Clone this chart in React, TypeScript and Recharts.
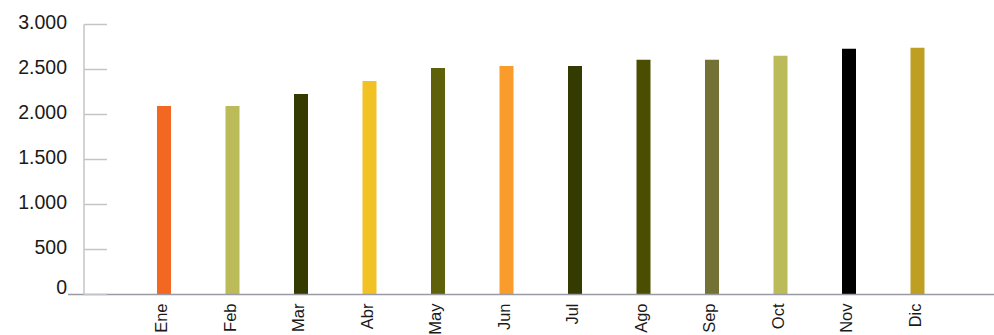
import React from "react";
import { BarChart, Bar, XAxis, YAxis, Cell, ReferenceLine } from "recharts";

const MONTHS = ["Ene", "Feb", "Mar", "Abr", "May", "Jun", "Jul", "Ago", "Sep", "Oct", "Nov", "Dic"];
const VALUES = [2095, 2095, 2229, 2373, 2518, 2540, 2540, 2607, 2607, 2652, 2730, 2741];
const COLORS = [
  "#f26722", "#bcbb5a", "#353a00", "#f2c123", "#5f600a", "#fa9c2c",
  "#353a00", "#4b4e00", "#737134", "#bcbb5a", "#000000", "#bf9f22",
];
const Y_TICKS = [0, 500, 1000, 1500, 2000, 2500, 3000];

const FONT = "'Liberation Sans', Arial, sans-serif";

const data = MONTHS.map((m, i) => ({ month: m, value: VALUES[i] }));

// thousands separator as a dot: 3000 -> "3.000"
const fmt = (v: number) => String(v).replace(/\B(?=(\d{3})+(?!\d))/g, ".");

function MonthTick({ x, y, payload }: any) {
  const bx = x + 3;
  return (
    <text
      x={bx}
      y={y}
      transform={`rotate(-90, ${bx}, ${y})`}
      textAnchor="end"
      fontSize={16.5}
      fontFamily={FONT}
      fill="#1a1a1a"
    >
      {payload.value}
    </text>
  );
}

function ValueTick({ x, y, payload }: any) {
  return (
    <text
      x={x}
      y={y}
      dy={payload.value === 0 ? -1 : 4}
      textAnchor="end"
      fontSize={19.5}
      fontFamily={FONT}
      fill="#1a1a1a"
    >
      {fmt(payload.value)}
    </text>
  );
}

// baseline axis, carried a little past the y axis under the "0" label
function BaseLine({ x1, y1, x2, y2 }: any) {
  return <line x1={x1 - 16} y1={y1} x2={x2} y2={y2} stroke="#9a9aa4" strokeWidth={1.5} />;
}

export default function App() {
  return (
    <div style={{ background: "#fff", width: 994, height: 335 }}>
      <style>{"html,body{margin:0;padding:0;overflow:hidden;background:#fff}"}</style>
      <BarChart
        width={994}
        height={335}
        data={data}
        margin={{ top: 24.5, right: 0, bottom: 0, left: 0 }}
      >
        <XAxis
          dataKey="month"
          height={40.5}
          padding={{ left: 46, right: 42 }}
          axisLine={false}
          tickLine={false}
          tickSize={0}
          tickMargin={9}
          interval={0}
          tick={<MonthTick />}
        />
        <YAxis
          width={84}
          domain={[0, 3000]}
          ticks={Y_TICKS}
          tickSize={-23}
          tickMargin={40}
          axisLine={{ stroke: "#c4c4c8", strokeWidth: 1.5 }}
          tickLine={{ stroke: "#c4c4c8", strokeWidth: 1.5 }}
          tick={<ValueTick />}
        />
        <ReferenceLine y={0} shape={<BaseLine />} ifOverflow="visible" />
        <Bar dataKey="value" barSize={14} isAnimationActive={false}>
          {data.map((d, i) => (
            <Cell key={d.month} fill={COLORS[i]} />
          ))}
        </Bar>
      </BarChart>
    </div>
  );
}
